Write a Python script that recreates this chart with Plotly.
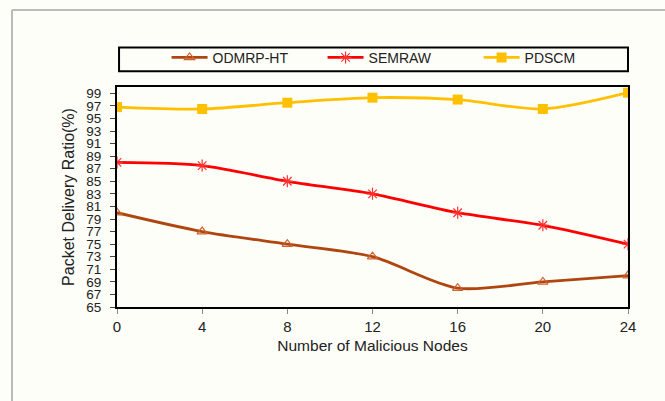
import plotly.graph_objects as go

x_nodes = [0, 4, 8, 12, 16, 20, 24]
odmrp_ht = [80, 77, 75, 73, 68, 69, 70]
semraw = [88, 87.5, 85, 83, 80, 78, 75]
pdscm = [96.8, 96.5, 97.5, 98.3, 98, 96.5, 99.1]
y_ticks = list(range(65, 100, 2))
x_ticks = [0, 4, 8, 12, 16, 20, 24]

bg = "#FEFEF9"
fig = go.Figure()
fig.add_trace(go.Scatter(x=x_nodes, y=odmrp_ht, name="ODMRP-HT", mode="lines+markers",
                         line=dict(color="#B0460F", width=2.8, shape="spline", smoothing=0.8),
                         marker=dict(symbol="triangle-up-open", size=9, color="#D0622E", line=dict(width=1.2))))
fig.add_trace(go.Scatter(x=x_nodes, y=semraw, name="SEMRAW", mode="lines+markers",
                         line=dict(color="#FF0000", width=2.8, shape="spline", smoothing=0.8),
                         marker=dict(symbol="asterisk-open", size=10, color="#FF3030", line=dict(width=1.2, color="#FF3030"))))
fig.add_trace(go.Scatter(x=x_nodes, y=pdscm, name="PDSCM", mode="lines+markers",
                         line=dict(color="#FFC000", width=2.8, shape="spline", smoothing=0.8),
                         marker=dict(symbol="square", size=10, color="#FFC000")))

font_fam = "Liberation Sans, Arial, sans-serif"
fig.update_layout(
    width=665, height=401,
    margin=dict(l=117, r=37, t=87, b=94),
    paper_bgcolor=bg, plot_bgcolor=bg,
    font=dict(family=font_fam, size=14, color="#000"),
    showlegend=True,
    legend=dict(orientation="h", x=0.097, xanchor="left", y=1.06, yanchor="bottom",
                bgcolor="rgba(0,0,0,0)", borderwidth=0,
                entrywidth=105, entrywidthmode="pixels",
                font=dict(size=14, family=font_fam, color="#222"), itemwidth=36),
    xaxis=dict(range=[0, 24], tickvals=x_ticks, showgrid=False, zeroline=False,
               showline=True, linecolor="#000", linewidth=2, mirror=True,
               ticks="outside", ticklen=5, tickcolor="#888",
               tickfont=dict(family=font_fam, size=15, color="#222"),
               title=dict(text="Number of Malicious Nodes", standoff=6,
                          font=dict(size=15.5, family=font_fam, color="#222"))),
    yaxis=dict(range=[65, 100], tickvals=y_ticks, showgrid=False, zeroline=False,
               showline=True, linecolor="#000", linewidth=2, mirror=True,
               ticks="outside", ticklen=5, tickcolor="#444", ticklabelstandoff=6,
               tickfont=dict(family=font_fam, size=13.5, color="#222"),
               title=dict(text="Packet Delivery Ratio(%)", standoff=8,
                          font=dict(size=16, family=font_fam, color="#222"))),
    shapes=[
        dict(type="rect", xref="paper", yref="paper", x0=0.004, x1=1.0, y0=1.072, y1=1.18,
             line=dict(color="#000", width=2), fillcolor="rgba(0,0,0,0)"),
        dict(type="line", xref="paper", yref="paper", x0=-0.2055, x1=1.1, y0=1.35, y1=1.35,
             line=dict(color="#BBBBBB", width=2)),
        dict(type="line", xref="paper", yref="paper", x0=-0.2055, x1=-0.2055, y0=1.35, y1=-0.5,
             line=dict(color="#BBBBBB", width=2)),
    ],
)
fig.write_html("out.html")
